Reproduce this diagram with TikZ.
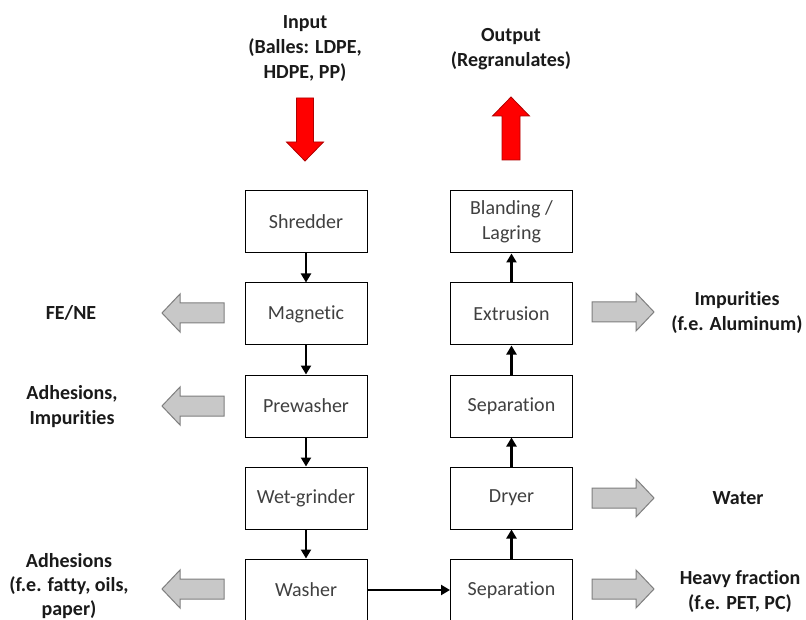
\documentclass[tikz,border=0pt]{standalone}
\usepackage{fontspec}
\setmainfont{Carlito}[Ligatures={NoCommon}]
\usetikzlibrary{arrows.meta}
\definecolor{boxtext}{HTML}{404040}
\definecolor{labeltext}{HTML}{1A1A1A}
\definecolor{grayfill}{HTML}{C8C8C8}
\definecolor{grayline}{HTML}{7F7F7F}
\definecolor{redfill}{HTML}{FF0000}
\definecolor{redline}{HTML}{B00000}
\tikzset{
  procbox/.style={draw=black, line width=1pt, fill=white, minimum width=122pt, minimum height=62pt,
    align=center, inner sep=2pt, text=boxtext, font=\fontsize{20}{25}\selectfont},
  lbl/.style={align=center, text=labeltext, font=\fontsize{20}{25}\selectfont\bfseries, inner sep=0pt},
  conn/.style={line width=2.4pt, -{Triangle[length=9pt,width=10pt]}, shorten >=0pt},
  grayarr/.style={fill=grayfill, draw=grayline, line width=1pt, line join=miter},
  redarr/.style={fill=redfill, draw=redline, line width=0.8pt, line join=miter},
  leftarrow/.pic={\path[grayarr] (0,0) -- (18,-19) -- (18,-10) -- (62,-10) -- (62,10) -- (18,10) -- (18,19) -- cycle;},
  rightarrow/.pic={\path[grayarr] (0,0) -- (-18,-19) -- (-18,-10) -- (-62,-10) -- (-62,10) -- (-18,10) -- (-18,19) -- cycle;},
  downarrow/.pic={\path[redarr] (0,0) -- (-18.5,-19) -- (-8.5,-19) -- (-8.5,-63) -- (8.5,-63) -- (8.5,-19) -- (18.5,-19) -- cycle;},
  uparrow/.pic={\path[redarr] (0,0) -- (-18.5,19) -- (-9,19) -- (-9,63) -- (9,63) -- (9,19) -- (18.5,19) -- cycle;}
}
\begin{document}
\begin{tikzpicture}[x=1pt, y=-1pt]
\useasboundingbox (0,0) rectangle (806,620);
\fill[white] (0,0) rectangle (806,620);
% left column
\node[procbox] (shred) at (306,222) {Shredder};
\node[procbox] (magn) at (306,314) {Magnetic};
\node[procbox] (prew) at (306,406) {Prewasher};
\node[procbox] (wetg) at (306,498) {Wet-grinder};
\node[procbox] (wash) at (306,590) {Washer};
% right column
\node[procbox] (blend) at (511.5,222) {Blanding /\\Lagring};
\node[procbox] (extr) at (511.5,314) {Extrusion};
\node[procbox] (sep2) at (511.5,406) {Separation};
\node[procbox] (dryer) at (511.5,498) {Dryer};
\node[procbox] (sep1) at (511.5,590) {Separation};
% connectors
\draw[conn] (shred) -- (magn);
\draw[conn] (magn) -- (prew);
\draw[conn] (prew) -- (wetg);
\draw[conn] (wetg) -- (wash);
\draw[conn] (wash) -- (sep1);
\draw[conn] (sep1) -- (dryer);
\draw[conn] (dryer) -- (sep2);
\draw[conn] (sep2) -- (extr);
\draw[conn] (extr) -- (blend);
% input / output
\node[lbl] (inp) at (305,48.5) {Input\\(Balles: LDPE,\\HDPE, PP)};
\node[lbl] (outp) at (511,49.5) {Output\\(Regranulates)};
\pic at (305,161) {downarrow};
\pic at (511,97) {uparrow};
% left outputs
\pic at (162,313) {leftarrow};
\pic at (162,406) {leftarrow};
\pic at (162,589) {leftarrow};
\node[lbl] (fene) at (71,313) {FE/NE};
\node[lbl] (adh1) at (72,407) {Adhesions,\\Impurities};
\node[lbl, font=\fontsize{20}{24}\selectfont\bfseries] (adh2) at (69,586) {Adhesions\\(f.e. fatty, oils,\\paper)};
% right outputs
\pic at (654,312) {rightarrow};
\pic at (654,498) {rightarrow};
\pic at (654,589) {rightarrow};
\node[lbl] (imp) at (737,312.5) {Impurities\\(f.e. Aluminum)};
\node[lbl] (water) at (738,498) {Water};
\node[lbl] (heavy) at (740,591) {Heavy fraction\\(f.e. PET, PC)};
\end{tikzpicture}
\end{document}
